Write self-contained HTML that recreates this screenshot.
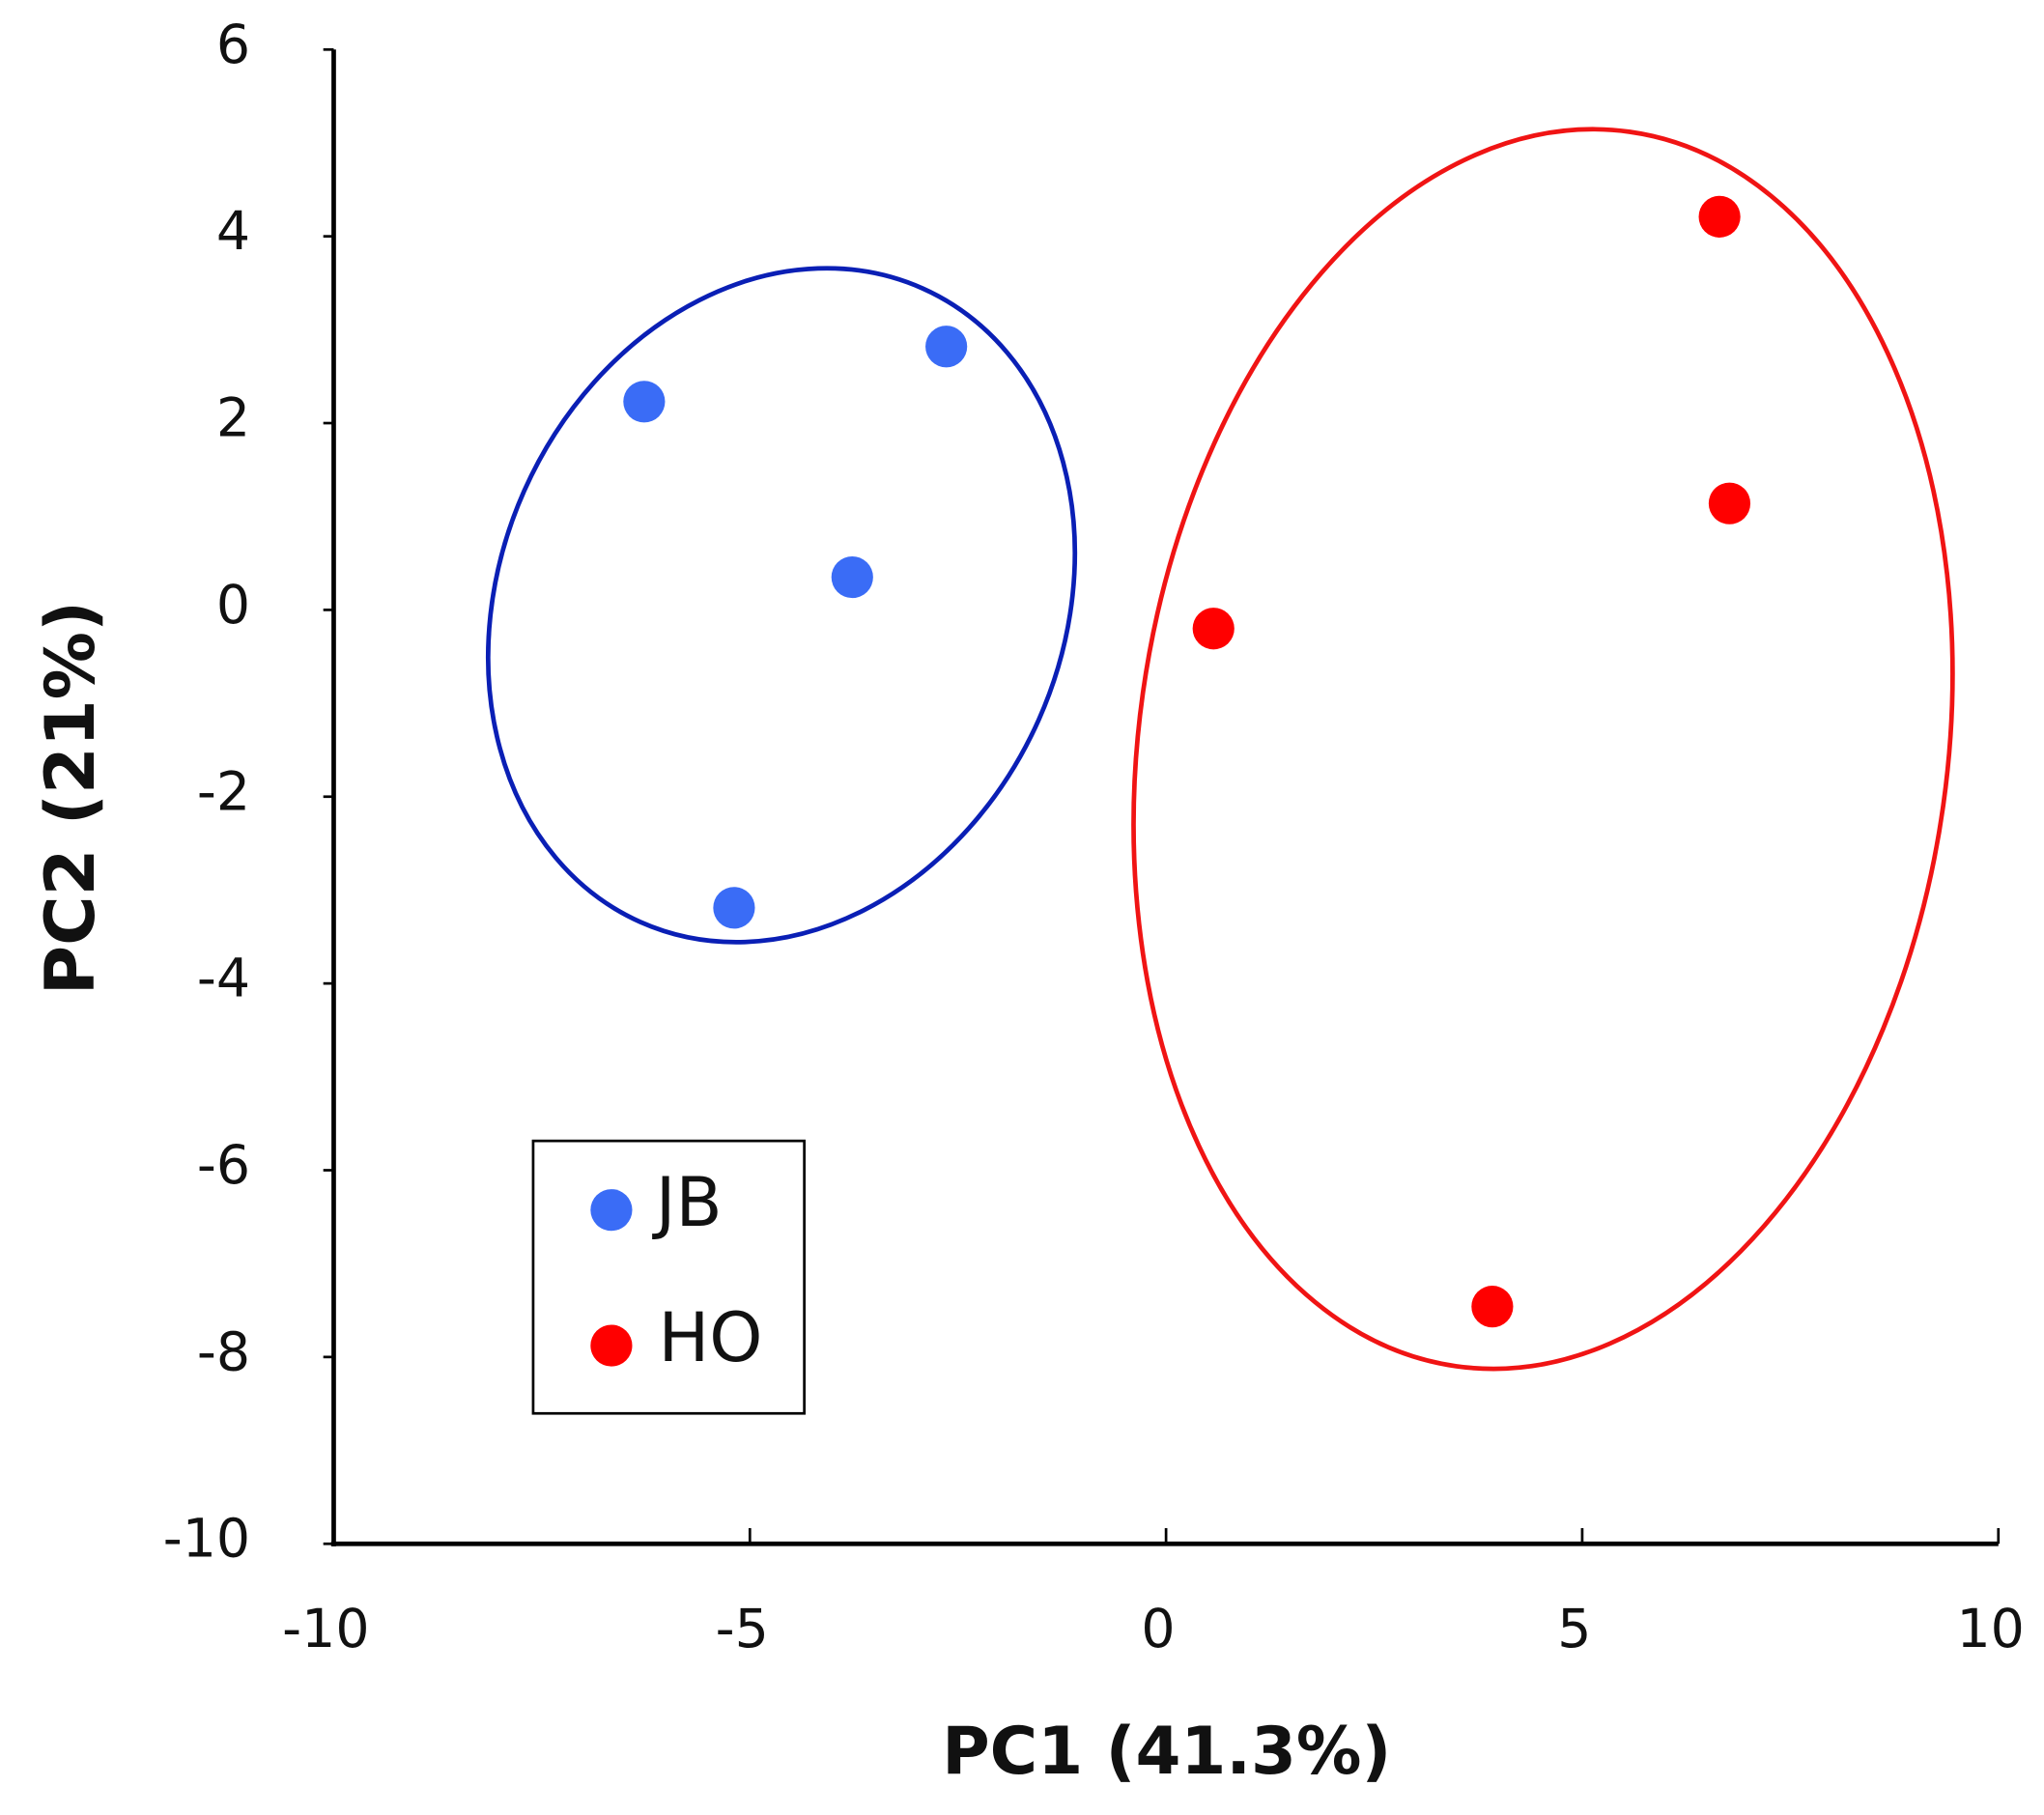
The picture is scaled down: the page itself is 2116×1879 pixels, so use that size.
<!DOCTYPE html>
<html><head><meta charset="utf-8"><style>
html,body{margin:0;padding:0;background:#fff;}
svg{display:block;}
text{font-family:"DejaVu Sans","Liberation Sans",sans-serif;fill:#111;}
</style></head><body>
<svg id="chart" width="2116" height="1879" viewBox="0 0 1568 1392" preserveAspectRatio="none" xmlns="http://www.w3.org/2000/svg">
<g id="axes"></g>
<g id="ellipses"></g>
<g id="points"></g>
<g>
<rect x="409" y="875" width="208" height="209" fill="#fff" stroke="#000" stroke-width="2"/>
<circle cx="469" cy="928" r="16" fill="#3a6cf6"/>
<text x="503" y="940" font-size="52">JB</text>
<circle cx="469" cy="1032" r="16" fill="#ff0000"/>
<text x="505" y="1044" font-size="52">HO</text>
</g>
<text x="895" y="1360" font-size="50" font-weight="bold" text-anchor="middle">PC1 (41.3%)</text>
<text transform="translate(72,612) rotate(-90)" font-size="52" font-weight="bold" text-anchor="middle">PC2 (21%)</text>
</svg>
<script>
const xTicks = [-10, -5, 0, 5, 10];
const yTicks = [6, 4, 2, 0, -2, -4, -6, -8, -10];
const jbX = [-6.27, -2.64, -3.77, -5.19];
const jbY = [2.23, 2.82, 0.35, -3.19];
const hoX = [6.65, 6.77, 0.57, 3.92];
const hoY = [4.21, 1.14, -0.20, -7.46];
const ellipseGroups = ["jb", "ho"];
const ellipseCX = [-4.62, 4.53];
const ellipseCY = [0.05, -1.49];

const X0 = 256, X1 = 1533, Y0 = 1184, Y1 = 38;
function sx(v){ return X0 + (v + 10) / 20 * (X1 - X0); }
function sy(v){ return Y0 - (v + 10) / 16 * (Y0 - Y1); }
const NS = "http://www.w3.org/2000/svg";
function mk(tag, attrs, parent){
  const e = document.createElementNS(NS, tag);
  for (const k in attrs) e.setAttribute(k, attrs[k]);
  parent.appendChild(e);
  return e;
}
const axes = document.getElementById('axes');
let l = mk('line', {x1:X0, y1:Y1, x2:X0, y2:Y0+2, stroke:'#000', 'stroke-width':3.5}, axes);


l = mk('line', {x1:X0-2, y1:Y0, x2:X1, y2:Y0, stroke:'#000', 'stroke-width':3.5}, axes);


xTicks.forEach(function(t){
  const tk = mk('line', {x1:sx(t), y1:Y0, x2:sx(t), y2:Y0-12, stroke:'#000', 'stroke-width':2}, axes);
  
  
  const tx = mk('text', {x:sx(t)-6, y:1263, 'font-size':41, 'text-anchor':'middle'}, axes);
  tx.textContent = String(t);
  
  
});
yTicks.forEach(function(t){
  const tk = mk('line', {x1:X0, y1:sy(t), x2:X0-8, y2:sy(t), stroke:'#000', 'stroke-width':2}, axes);
  
  
  const tx = mk('text', {x:192, y:sy(t)+10, 'font-size':41, 'text-anchor':'end'}, axes);
  tx.textContent = String(t);
  
  
});
const eg = document.getElementById('ellipses');
const eStyle = [{rx:216, ry:266, rot:24, c:'#0a1fb5'}, {rx:310, ry:478, rot:8, c:'#f01414'}];
ellipseGroups.forEach(function(g, i){
  const s = eStyle[i];
  const cx = sx(ellipseCX[i]), cy = sy(ellipseCY[i]);
  const e = mk('ellipse', {cx:cx, cy:cy, rx:s.rx, ry:s.ry, fill:'none', stroke:s.c, 'stroke-width':3.5, transform:'rotate(' + s.rot + ' ' + cx + ' ' + cy + ')'}, eg);
  
  
});
const pg = document.getElementById('points');
jbX.forEach(function(v, i){
  const c = mk('circle', {cx:sx(v), cy:sy(jbY[i]), r:16, fill:'#3a6cf6'}, pg);
  
  
});
hoX.forEach(function(v, i){
  const c = mk('circle', {cx:sx(v), cy:sy(hoY[i]), r:16, fill:'#ff0000'}, pg);
  
  
});
</script>
</body></html>
